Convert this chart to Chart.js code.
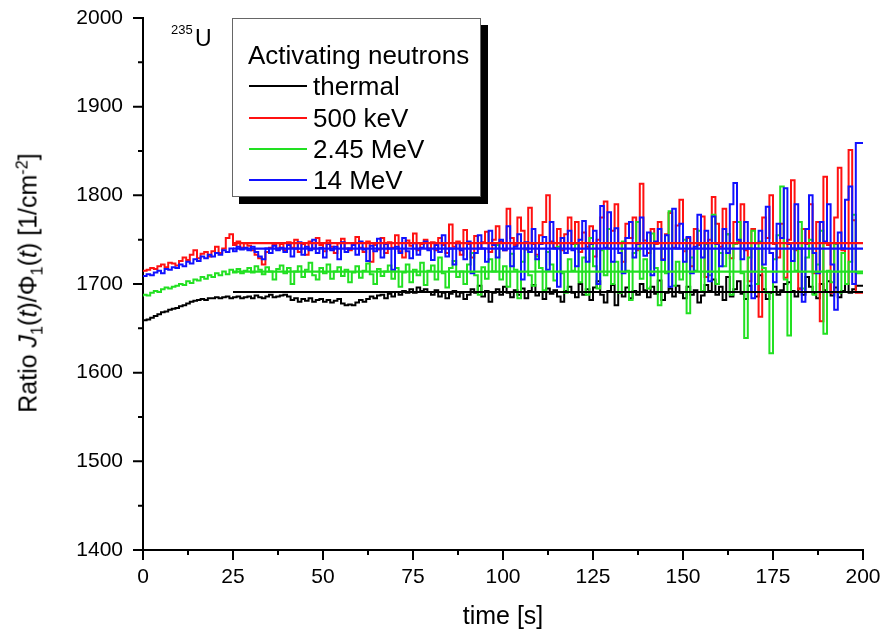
<!DOCTYPE html>
<html>
<head>
<meta charset="utf-8">
<script src="https://cdn.jsdelivr.net/npm/chart.js@4.4.0/dist/chart.umd.min.js"></script>
<style>
  html, body { margin: 0; padding: 0; background: #fff; }
  #wrap { position: relative; width: 885px; height: 637px; font-family: "Liberation Sans", Arial, sans-serif; color: #000; }
  #chart { position: absolute; left: 0; top: 0; }
  .txt { position: absolute; white-space: nowrap; line-height: 1; }
  #ytitle { left: 28px; top: 283px; font-size: 25px; transform: translate(-50%, -50%) rotate(-90deg); }
  #xtitle { left: 503px; top: 615px; font-size: 25px; transform: translate(-50%, -50%); }
  #iso { left: 171px; top: 23px; font-size: 13px; }
  #isoU { left: 195px; top: 27px; font-size: 23px; }
  #legend { position: absolute; left: 232px; top: 18px; width: 247px; height: 177px; border: 1px solid #666; background: #fff; box-shadow: 7px 7px 0 #000; }
  .lg { position: absolute; font-size: 26px; line-height: 26px; white-space: nowrap; }
  .sw { position: absolute; left: 16px; width: 58px; height: 0; border-top: 2px solid; }
  sub, sup { font-size: 65%; line-height: 0; }
</style>
</head>
<body>
<div id="wrap">
  <canvas id="chart" width="885" height="637"></canvas>
  <div class="txt" id="ytitle">Ratio <i>J</i><sub>1</sub>(<i>t</i>)/Φ<sub>1</sub>(<i>t</i>) [1/cm<sup>-2</sup>]</div>
  <div class="txt" id="xtitle">time [s]</div>
  <div class="txt" id="iso">235</div>
  <div class="txt" id="isoU">U</div>
  <div id="legend"></div>
</div>
<script>
// time bins of 1 s
const seriesNames = ['thermal', '500 keV', '2.45 MeV', '14 MeV'];
const seriesColors = ['#000000', '#ff1111', '#22e022', '#1111ff'];

const thermal = [
  1658,1659,1660,1662,1664,1666,1668,1669,1671,1672,
  1673,1675,1676,1678,1680,1681,1682,1683,1682,1684,
  1684,1685,1684,1685,1686,1684,1685,1686,1684,1685,
  1686,1684,1687,1685,1684,1686,1688,1685,1686,1687,
  1688,1686,1682,1684,1680,1683,1681,1684,1680,1682,
  1683,1680,1682,1679,1681,1683,1678,1676,1677,1676,
  1679,1682,1680,1683,1686,1684,1687,1688,1684,1689,
  1686,1691,1688,1692,1690,1694,1690,1696,1692,1694,
  1691,1688,1693,1686,1690,1684,1689,1692,1686,1690,
  1683,1688,1694,1690,1698,1686,1692,1680,1690,1694,
  1688,1697,1690,1685,1693,1688,1695,1684,1692,1699,
  1687,1691,1683,1695,1689,1693,1686,1680,1692,1697,
  1690,1685,1700,1688,1694,1682,1696,1703,1688,1679,
  1692,1699,1676,1690,1686,1696,1684,1692,1688,1700,
  1693,1685,1697,1689,1704,1682,1690,1695,1686,1698,
  1690,1684,1697,1688,1693,1679,1687,1699,1692,1705,
  1688,1697,1682,1708,1686,1694,1703,1689,1683,1698,
  1691,1686,1710,1694,1683,1690,1697,1688,1693,1700,
  1702,1692,1686,1695,1688,1708,1697,1689,1684,1700,
  1693,1703,1687,1696,1685,1692,1700,1690,1694,1698
];

const kev500 = [
  1714,1715,1716,1718,1717,1720,1722,1719,1724,1723,
  1721,1726,1730,1727,1733,1738,1729,1734,1736,1731,
  1737,1742,1735,1740,1752,1756,1744,1748,1741,1746,
  1743,1738,1733,1729,1722,1736,1741,1744,1740,1745,
  1738,1747,1741,1750,1736,1745,1733,1748,1740,1752,
  1744,1737,1749,1742,1735,1746,1751,1740,1738,1746,
  1753,1741,1736,1748,1725,1744,1739,1752,1735,1747,
  1741,1755,1737,1730,1749,1743,1757,1738,1745,1750,
  1740,1747,1738,1752,1744,1735,1767,1742,1748,1733,
  1761,1745,1730,1754,1740,1747,1759,1736,1750,1765,
  1748,1738,1785,1752,1744,1775,1760,1739,1786,1745,
  1733,1755,1770,1800,1748,1741,1762,1738,1756,1775,
  1745,1770,1736,1758,1742,1765,1731,1750,1775,1793,
  1740,1760,1790,1746,1725,1768,1752,1775,1738,1813,
  1749,1735,1762,1745,1770,1728,1756,1780,1741,1766,
  1795,1737,1752,1720,1762,1744,1776,1708,1750,1798,
  1768,1742,1785,1756,1729,1770,1748,1790,1738,1703,
  1762,1740,1663,1775,1752,1800,1745,1730,1768,1707,
  1750,1817,1738,1694,1762,1745,1790,1712,1770,1658,
  1821,1744,1690,1775,1831,1738,1700,1851,1772,1690
];

const mev245 = [
  1686,1688,1687,1690,1692,1691,1694,1696,1695,1697,
  1698,1700,1699,1703,1701,1705,1704,1708,1706,1710,
  1708,1712,1710,1714,1711,1716,1713,1717,1712,1715,
  1718,1713,1720,1716,1711,1719,1714,1705,1717,1721,
  1712,1718,1700,1714,1720,1708,1716,1724,1710,1705,
  1718,1712,1722,1706,1714,1719,1709,1716,1702,1713,
  1720,1707,1715,1723,1711,1700,1717,1709,1714,1721,
  1706,1718,1697,1713,1722,1702,1716,1710,1724,1699,
  1715,1721,1705,1730,1712,1696,1718,1726,1708,1714,
  1700,1722,1735,1710,1688,1719,1706,1728,1714,1744,
  1705,1720,1697,1734,1716,1684,1725,1740,1710,1698,
  1731,1718,1693,1736,1722,1704,1742,1712,1690,1728,
  1715,1745,1702,1730,1688,1752,1720,1695,1738,1710,
  1762,1700,1725,1690,1748,1715,1682,1735,1770,1706,
  1728,1695,1757,1718,1676,1740,1712,1782,1698,1725,
  1705,1750,1667,1730,1715,1760,1692,1745,1710,1778,
  1700,1735,1720,1756,1688,1745,1770,1712,1639,1730,
  1760,1700,1748,1718,1690,1622,1728,1755,1810,1705,
  1642,1740,1715,1770,1695,1730,1750,1688,1722,1760,
  1644,1715,1702,1745,1690,1735,1700,1725,1778,1712
];

const mev14 = [
  1708,1709,1711,1710,1713,1715,1712,1717,1716,1719,
  1718,1722,1720,1725,1723,1728,1726,1731,1729,1733,
  1731,1735,1733,1738,1736,1740,1737,1742,1739,1741,
  1738,1742,1736,1731,1728,1740,1735,1743,1738,1741,
  1736,1744,1731,1740,1747,1733,1742,1738,1750,1735,
  1741,1730,1745,1738,1742,1728,1747,1736,1740,1744,
  1733,1748,1739,1726,1743,1737,1751,1730,1745,1740,
  1716,1742,1735,1752,1737,1729,1746,1733,1741,1748,
  1738,1727,1744,1736,1755,1731,1740,1722,1746,1738,
  1728,1748,1712,1735,1755,1740,1725,1760,1744,1730,
  1750,1738,1765,1720,1742,1756,1705,1747,1736,1762,
  1728,1745,1753,1716,1770,1740,1697,1752,1735,1760,
  1738,1720,1750,1771,1725,1745,1760,1700,1788,1741,
  1781,1725,1763,1735,1712,1752,1770,1730,1745,1775,
  1732,1758,1710,1748,1762,1727,1755,1697,1785,1740,
  1768,1725,1753,1712,1742,1778,1730,1760,1703,1776,
  1745,1720,1762,1735,1790,1814,1750,1728,1770,1740,
  1684,1746,1760,1722,1787,1735,1702,1768,1752,1808,
  1745,1726,1790,1740,1680,1762,1800,1735,1712,1770,
  1748,1790,1722,1671,1758,1740,1795,1810,1700,1859
];

// constant fits, drawn from 25 s to the end
const fitRange = [25, 200];
const fitValues = [1691, 1746, 1714, 1740];

const xTicks = [0, 25, 50, 75, 100, 125, 150, 175, 200];
const yTicks = [1400, 1500, 1600, 1700, 1800, 1900, 2000];

const allSeries = [thermal, kev500, mev245, mev14];

// step points, one per second, last bin closed at 200 s
function toPoints(arr) {
  const pts = arr.map((v, i) => ({ x: i, y: v }));
  pts.push({ x: arr.length, y: arr[arr.length - 1] });
  return pts;
}

const datasets = [];
// fits first so they are drawn on top
fitValues.forEach((v, i) => {
  datasets.push({
    data: fitRange.map(t => ({ x: t, y: v })),
    borderColor: seriesColors[i],
    borderWidth: 2.2,
    pointRadius: 0
  });
});
[3, 2, 1, 0].forEach(i => {
  datasets.push({
    label: seriesNames[i],
    data: toPoints(allSeries[i]),
    borderColor: seriesColors[i],
    borderWidth: 2,
    stepped: 'after',
    pointRadius: 0
  });
});

// ticks on the outside, major and minor
const axisTicks = {
  id: 'axisTicks',
  afterDraw(chart) {
    const { ctx, chartArea: a, scales: { x, y } } = chart;
    ctx.save();
    ctx.strokeStyle = '#000';
    ctx.lineWidth = 2;
    ctx.beginPath();
    for (let k = 0; k < yTicks.length; k++) {
      const p = y.getPixelForValue(yTicks[k]);
      ctx.moveTo(a.left - 10, p); ctx.lineTo(a.left, p);
      if (k < yTicks.length - 1) {
        const m = y.getPixelForValue((yTicks[k] + yTicks[k + 1]) / 2);
        ctx.moveTo(a.left - 5, m); ctx.lineTo(a.left, m);
      }
    }
    for (let k = 0; k < xTicks.length; k++) {
      const p = x.getPixelForValue(xTicks[k]);
      ctx.moveTo(p, a.bottom); ctx.lineTo(p, a.bottom + 10);
      if (k < xTicks.length - 1) {
        const m = x.getPixelForValue((xTicks[k] + xTicks[k + 1]) / 2);
        ctx.moveTo(m, a.bottom); ctx.lineTo(m, a.bottom + 5);
      }
    }
    ctx.stroke();
    ctx.restore();
  }
};

const tickFont = { family: '"Liberation Sans", Arial, sans-serif', size: 21 };

new Chart(document.getElementById('chart'), {
  type: 'line',
  data: { datasets },
  options: {
    responsive: false,
    animation: false,
    layout: { padding: { top: 18, right: 22, left: 0, bottom: 0 } },
    plugins: { legend: { display: false }, tooltip: { enabled: false } },
    scales: {
      x: {
        type: 'linear',
        min: 0, max: 200,
        afterBuildTicks: s => { s.ticks = xTicks.map(v => ({ value: v })); },
        afterFit: s => { s.height = 87; s.paddingLeft = 0; s.paddingRight = 0; },
        ticks: { color: '#000', font: tickFont, padding: 15, maxRotation: 0, callback: v => String(v) },
        grid: { display: false, drawTicks: false },
        border: { display: true, color: '#000', width: 2 }
      },
      y: {
        min: 1400, max: 2000,
        afterBuildTicks: s => { s.ticks = yTicks.map(v => ({ value: v })); },
        afterFit: s => { s.width = 143; s.paddingTop = 0; s.paddingBottom = 0; },
        ticks: { color: '#000', font: tickFont, padding: 20, callback: v => String(v) },
        grid: { display: false, drawTicks: false },
        border: { display: true, color: '#000', width: 2 }
      }
    }
  },
  plugins: [axisTicks]
});

// legend box
const legend = document.getElementById('legend');
const title = document.createElement('div');
title.className = 'lg';
title.style.left = '15px';
title.style.top = '23px';
title.textContent = 'Activating neutrons';
legend.appendChild(title);
const rowCenters = [67, 99, 130, 161];
seriesNames.forEach((name, i) => {
  const sw = document.createElement('div');
  sw.className = 'sw';
  sw.style.borderColor = seriesColors[i];
  sw.style.top = (rowCenters[i] - 1) + 'px';
  legend.appendChild(sw);
  const t = document.createElement('div');
  t.className = 'lg';
  t.style.left = '80px';
  t.style.top = (rowCenters[i] - 13) + 'px';
  t.textContent = name;
  legend.appendChild(t);
});
</script>
</body>
</html>
